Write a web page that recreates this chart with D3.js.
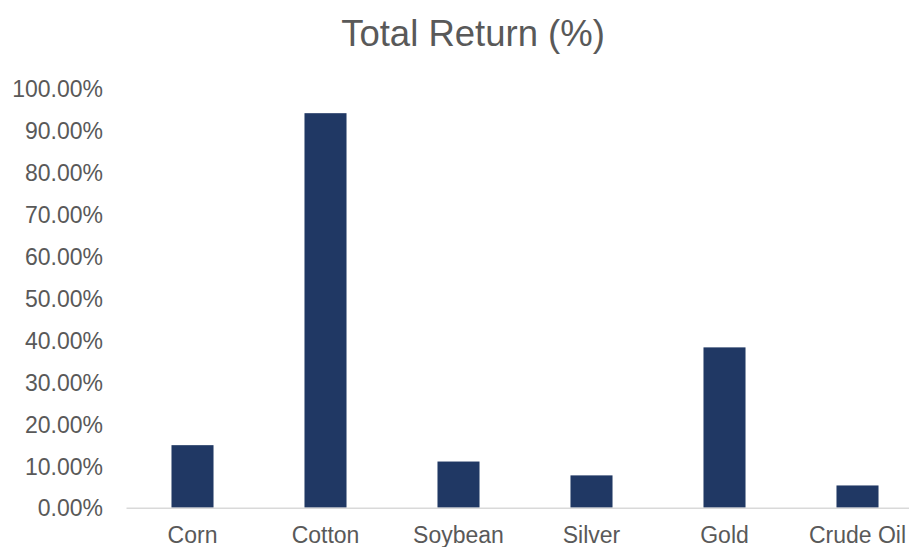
<!DOCTYPE html>
<html>
<head>
<meta charset="utf-8">
<script src="https://cdn.jsdelivr.net/npm/d3@7"></script>
<style>
  html, body { margin: 0; padding: 0; background: #ffffff; }
  svg { display: block; }
</style>
</head>
<body>
<div id="chart"></div>
<script>
// Total return by commodity, in percent
const categories = ["Corn", "Cotton", "Soybean", "Silver", "Gold", "Crude Oil"];
const totalReturn = [14.9, 94.0, 11.0, 7.7, 38.2, 5.3];
const yTicks = [0, 10, 20, 30, 40, 50, 60, 70, 80, 90, 100];
const chartTitle = "Total Return (%)";

const width = 909, height = 547;
const font = "'Liberation Sans', Arial, sans-serif";
const textColor = "#595959";

const svg = d3.select("#chart").append("svg")
  .attr("width", width)
  .attr("height", height);

const x = d3.scaleBand()
  .domain(categories)
  .range([126, 924])
  .paddingInner(0.684)
  .paddingOuter(0.342);

const y = d3.scaleLinear()
  .domain([0, 100])
  .range([507.7, 88]);

// Title
svg.append("text")
  .attr("x", 473)
  .attr("y", 46)
  .attr("text-anchor", "middle")
  .attr("font-family", font)
  .attr("font-size", 36.5)
  .attr("fill", textColor)
  .text(chartTitle);

// Value axis labels (no axis line)
const yAxis = d3.axisLeft(y)
  .tickValues(yTicks)
  .tickSize(0)
  .tickPadding(0)
  .tickFormat(d => d.toFixed(2) + "%");

const gy = svg.append("g")
  .attr("transform", "translate(103,0)")
  .call(yAxis);
gy.select(".domain").remove();
gy.selectAll("text")
  .attr("font-family", font)
  .attr("font-size", 23)
  .attr("fill", textColor)
  .attr("dy", "0.36em");

// Bars
svg.append("g")
  .selectAll("rect")
  .data(categories.map((c, i) => ({ c, v: totalReturn[i] })))
  .join("rect")
  .attr("x", d => x(d.c))
  .attr("width", x.bandwidth())
  .attr("y", d => y(d.v))
  .attr("height", d => y(0) - y(d.v))
  .attr("fill", "#203864");

// Category axis
const xAxis = d3.axisBottom(x).tickSize(0).tickPadding(0);
const gx = svg.append("g")
  .attr("transform", `translate(0,${y(0)})`)
  .call(xAxis);
gx.select(".domain")
  .attr("stroke", "#d9d9d9")
  .attr("stroke-width", 1.5);
gx.selectAll("text")
  .attr("font-family", font)
  .attr("font-size", 23)
  .attr("fill", textColor)
  .attr("dy", 0)
  .attr("y", 35.5);
</script>
</body>
</html>
